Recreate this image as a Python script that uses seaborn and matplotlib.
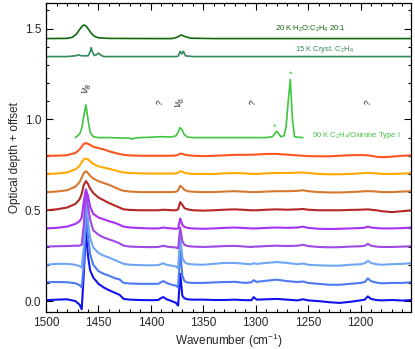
import numpy as np
import pandas as pd
import matplotlib
matplotlib.use("Agg")
import matplotlib.pyplot as plt
from matplotlib.ticker import MultipleLocator
import seaborn as sns

# ---------------- data ----------------
wn = [1500, 1490, 1480, 1472, 1468, 1466, 1464, 1462, 1460, 1458,
      1455, 1450, 1445, 1440, 1434, 1430, 1426, 1420, 1410, 1400,
      1393, 1390, 1388, 1385, 1380, 1376, 1374, 1372, 1370, 1368,
      1365, 1360, 1350, 1340, 1330, 1320, 1310, 1304, 1302, 1299,
      1290, 1280, 1270, 1260, 1255, 1250, 1240, 1230, 1220, 1210,
      1200, 1196, 1193, 1190, 1185, 1180, 1170, 1160, 1150]

od_blue = [0.005, 0.008, 0.01, 0.0, -0.02, -0.045, 0.15, 0.39, 0.25, 0.17,
           0.13, 0.095, 0.075, 0.06, 0.045, 0.035, 0.012, 0.008, 0.006, 0.005,
           0.006, 0.018, 0.022, 0.01, 0.0, -0.01, -0.025, 0.15, 0.03, 0.015,
           0.01, 0.008, 0.008, 0.006, 0.006, 0.008, 0.005, 0.005, 0.022, 0.008,
           0.01, 0.012, 0.008, 0.004, 0.01, 0.004, 0.0, -0.006, -0.01, -0.004,
           0.004, 0.008, 0.026, 0.012, 0.006, 0.004, 0.006, 0.003, 0.006]

od_cornflower = [0.104, 0.105, 0.104, 0.098, 0.088, 0.075, 0.2, 0.47, 0.36, 0.26,
                 0.20, 0.165, 0.15, 0.14, 0.125, 0.12, 0.1, 0.097, 0.095, 0.095,
                 0.095, 0.105, 0.11, 0.1, 0.09, 0.085, 0.075, 0.28, 0.14, 0.11,
                 0.102, 0.1, 0.1, 0.103, 0.105, 0.106, 0.1, 0.104, 0.115, 0.106,
                 0.112, 0.118, 0.11, 0.105, 0.108, 0.1, 0.095, 0.09, 0.09, 0.095,
                 0.1, 0.105, 0.125, 0.11, 0.102, 0.098, 0.1, 0.1, 0.105]

od_lightblue = [0.2, 0.205, 0.205, 0.2, 0.192, 0.185, 0.3, 0.56, 0.44, 0.35,
                0.295, 0.265, 0.25, 0.24, 0.225, 0.215, 0.205, 0.2, 0.198, 0.197,
                0.198, 0.205, 0.208, 0.2, 0.195, 0.19, 0.18, 0.36, 0.24, 0.215,
                0.205, 0.202, 0.2, 0.205, 0.21, 0.21, 0.205, 0.203, 0.208, 0.205,
                0.21, 0.215, 0.21, 0.203, 0.207, 0.2, 0.197, 0.195, 0.195, 0.2,
                0.203, 0.208, 0.222, 0.21, 0.203, 0.2, 0.203, 0.205, 0.21]

od_purple1 = [0.3, 0.302, 0.303, 0.305, 0.305, 0.31, 0.42, 0.6, 0.52, 0.45,
              0.39, 0.365, 0.35, 0.34, 0.328, 0.318, 0.305, 0.3, 0.298, 0.297,
              0.298, 0.302, 0.305, 0.3, 0.297, 0.295, 0.29, 0.405, 0.33, 0.31,
              0.303, 0.3, 0.298, 0.3, 0.303, 0.304, 0.3, 0.298, 0.3, 0.3,
              0.303, 0.305, 0.303, 0.305, 0.31, 0.303, 0.298, 0.296, 0.297, 0.3,
              0.302, 0.305, 0.315, 0.305, 0.3, 0.298, 0.298, 0.3, 0.302]

od_purple2 = [0.4, 0.403, 0.41, 0.425, 0.44, 0.46, 0.55, 0.615, 0.58, 0.52,
              0.48, 0.46, 0.45, 0.44, 0.43, 0.42, 0.41, 0.405, 0.402, 0.4,
              0.4, 0.403, 0.405, 0.402, 0.4, 0.398, 0.4, 0.455, 0.42, 0.408,
              0.403, 0.4, 0.398, 0.4, 0.403, 0.405, 0.402, 0.4, 0.4, 0.4,
              0.403, 0.405, 0.403, 0.405, 0.41, 0.403, 0.398, 0.397, 0.398, 0.4,
              0.402, 0.404, 0.41, 0.405, 0.402, 0.4, 0.4, 0.402, 0.405]

od_darkred = [0.5, 0.505, 0.515, 0.535, 0.56, 0.59, 0.64, 0.66, 0.645, 0.62,
              0.595, 0.57, 0.555, 0.54, 0.525, 0.515, 0.505, 0.502, 0.5, 0.5,
              0.5, 0.502, 0.503, 0.502, 0.5, 0.5, 0.505, 0.545, 0.53, 0.512,
              0.505, 0.5, 0.498, 0.5, 0.503, 0.505, 0.502, 0.5, 0.5, 0.5,
              0.503, 0.505, 0.503, 0.505, 0.507, 0.503, 0.5, 0.5, 0.5, 0.502,
              0.503, 0.504, 0.505, 0.503, 0.5, 0.495, 0.49, 0.495, 0.5]

od_brown = [0.6, 0.603, 0.61, 0.63, 0.655, 0.68, 0.705, 0.715, 0.705, 0.69,
            0.675, 0.66, 0.65, 0.64, 0.625, 0.615, 0.607, 0.603, 0.6, 0.6,
            0.6, 0.6, 0.6, 0.6, 0.6, 0.602, 0.61, 0.635, 0.625, 0.612,
            0.605, 0.602, 0.6, 0.6, 0.603, 0.605, 0.602, 0.6, 0.6, 0.6,
            0.603, 0.605, 0.605, 0.607, 0.61, 0.605, 0.6, 0.598, 0.598, 0.6,
            0.603, 0.605, 0.605, 0.605, 0.603, 0.6, 0.6, 0.603, 0.605]

od_yellow = [0.7, 0.702, 0.708, 0.725, 0.745, 0.765, 0.78, 0.785, 0.78, 0.77,
             0.755, 0.742, 0.735, 0.728, 0.72, 0.713, 0.708, 0.705, 0.703, 0.702,
             0.702, 0.702, 0.702, 0.702, 0.702, 0.703, 0.707, 0.715, 0.712, 0.707,
             0.703, 0.7, 0.7, 0.7, 0.703, 0.705, 0.703, 0.7, 0.7, 0.7,
             0.703, 0.705, 0.705, 0.707, 0.708, 0.705, 0.7, 0.698, 0.698, 0.7,
             0.703, 0.705, 0.705, 0.705, 0.703, 0.7, 0.7, 0.702, 0.705]

od_redorange = [0.8, 0.8, 0.803, 0.815, 0.835, 0.85, 0.865, 0.87, 0.865, 0.86,
                0.85, 0.842, 0.835, 0.825, 0.815, 0.81, 0.805, 0.802, 0.8, 0.8,
                0.8, 0.8, 0.8, 0.8, 0.8, 0.802, 0.805, 0.812, 0.81, 0.806,
                0.803, 0.8, 0.798, 0.8, 0.802, 0.805, 0.805, 0.806, 0.806, 0.807,
                0.81, 0.81, 0.806, 0.802, 0.8, 0.798, 0.797, 0.797, 0.8, 0.803,
                0.804, 0.803, 0.802, 0.8, 0.795, 0.792, 0.795, 0.8, 0.802]

wn_90k = [1472, 1468, 1466, 1464, 1462, 1460, 1458, 1455, 1450, 1440,
          1430, 1420, 1418, 1416, 1410, 1400, 1390, 1380, 1376, 1374,
          1372, 1370, 1368, 1365, 1360, 1350, 1340, 1320, 1300, 1290,
          1284, 1282, 1280, 1278, 1276, 1273, 1271, 1269, 1267, 1265,
          1263, 1260, 1255]
od_90k = [0.9, 0.92, 0.95, 1.02, 1.08, 1.0, 0.93, 0.905, 0.9, 0.9,
          0.898, 0.897, 0.89, 0.897, 0.9, 0.902, 0.905, 0.903, 0.91, 0.93,
          0.955, 0.94, 0.915, 0.903, 0.9, 0.9, 0.9, 0.9, 0.9, 0.9,
          0.905, 0.92, 0.935, 0.92, 0.905, 0.91, 0.96, 1.10, 1.22, 1.0,
          0.905, 0.902, 0.9]

wn_15k = [1500, 1480, 1472, 1469, 1466, 1460, 1458, 1457, 1456, 1454,
          1452, 1450, 1448, 1445, 1400, 1376, 1374, 1372, 1370.5, 1369,
          1367, 1360, 1150]
od_15k = [1.346, 1.346, 1.35, 1.355, 1.35, 1.35, 1.37, 1.395, 1.375, 1.352,
          1.356, 1.365, 1.355, 1.346, 1.346, 1.346, 1.348, 1.375, 1.36, 1.375,
          1.35, 1.346, 1.346]

wn_20k = [1500, 1480, 1475, 1471, 1468, 1466, 1464, 1462, 1460, 1457,
          1454, 1450, 1440, 1400, 1380, 1375, 1371, 1367, 1362, 1340, 1150]
od_20k = [1.445, 1.446, 1.452, 1.47, 1.495, 1.51, 1.52, 1.515, 1.5, 1.475,
          1.458, 1.449, 1.446, 1.445, 1.445, 1.452, 1.465, 1.455, 1.447, 1.445, 1.445]

lower_series = [od_blue, od_cornflower, od_lightblue, od_purple1, od_purple2,
                od_darkred, od_brown, od_yellow, od_redorange]
lower_colors = ['#1212f0', '#4d7af2', '#6fa6f4', '#9e48e6', '#a832f2',
                '#b52626', '#d6782e', '#ffaa00', '#ff5522']

c_90k = '#3fc63f'
c_15k = '#2e8b57'
c_20k = '#0f690f'

# ---------------- plot ----------------
sns.set_theme(style="ticks")
plt.rcParams['font.family'] = ['Liberation Sans', 'DejaVu Sans']
plt.rcParams['mathtext.default'] = 'regular'

fig = plt.figure(figsize=(4.15, 3.49), dpi=100)
ax = fig.add_axes([0.111, 0.106, 0.879, 0.885])

for vals, col in zip(lower_series, lower_colors):
    sns.lineplot(x=wn, y=vals, color=col, lw=1.5, ax=ax, sort=False)
sns.lineplot(x=wn_90k, y=od_90k, color=c_90k, lw=1.2, ax=ax, sort=False)
sns.lineplot(x=wn_15k, y=od_15k, color=c_15k, lw=1.2, ax=ax, sort=False)
sns.lineplot(x=wn_20k, y=od_20k, color=c_20k, lw=1.2, ax=ax, sort=False)

ax.set_xlim(1500, 1152)
ax.set_ylim(-0.06, 1.64)

ax.xaxis.set_major_locator(MultipleLocator(50))
ax.xaxis.set_minor_locator(MultipleLocator(10))
ax.yaxis.set_major_locator(MultipleLocator(0.5))
ax.yaxis.set_minor_locator(MultipleLocator(0.1))
ax.yaxis.set_major_formatter(matplotlib.ticker.FormatStrFormatter('%.1f'))
ax.tick_params(which='both', direction='in', top=True, right=True,
               labelsize=8.5, width=0.8, color='black')
ax.tick_params(which='major', length=5)
ax.tick_params(which='minor', length=2.5)
for s in ax.spines.values():
    s.set_linewidth(0.9)
    s.set_color('black')

ax.set_xlabel('Wavenumber (cm$^{-1}$)', fontsize=8.5, labelpad=2)
ax.set_ylabel('Optical depth + offset', fontsize=8.5, labelpad=3)

fs = 5.5
ax.text(1214, 1.50, '20 K H$_2$O:C$_2$H$_4$ 20:1', color=c_20k, fontsize=fs,
        ha='right', va='center')
ax.text(1206, 1.385, '15 K Cryst. C$_2$H$_4$', color=c_15k, fontsize=fs,
        ha='right', va='center')
ax.text(1246, 0.91, '90 K C$_2$H$_4$/Oxirane Type I', color=c_90k, fontsize=fs,
        ha='left', va='center')

ax.text(1461, 1.17, r'$\nu_8$', fontsize=7.5, rotation=72, ha='center', va='center')
ax.text(1372, 1.09, r'$\nu_6$', fontsize=7.5, rotation=72, ha='center', va='center')
for qx in [1391, 1303, 1193]:
    ax.text(qx, 1.09, '?', fontsize=6.5, rotation=72, ha='center', va='center')
ax.text(1282, 0.955, '*', color=c_90k, fontsize=6.5, ha='center', va='center')
ax.text(1267, 1.25, '*', color=c_90k, fontsize=6.5, ha='center', va='center')

fig.savefig('out.png', dpi=100)
